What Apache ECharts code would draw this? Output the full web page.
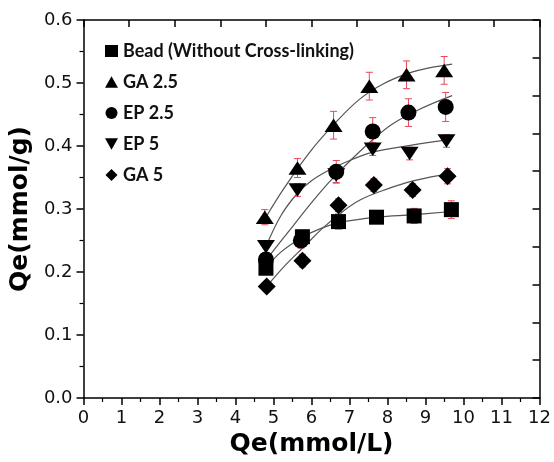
<!DOCTYPE html>
<html>
<head>
<meta charset="utf-8">
<script src="https://cdn.jsdelivr.net/npm/echarts@6/dist/echarts.min.js"></script>
<style>
	html, body { margin: 0; padding: 0; background: #fff; }
	#chart { width: 554px; height: 462px; }
</style>
</head>
<body>
<div id="chart"></div>
<script>
// measured points (x = Ce, y = Qe) and error bars
var beadX = [4.80, 5.76, 6.71, 7.71, 8.70, 9.68];
var beadY = [0.206, 0.256, 0.280, 0.287, 0.289, 0.299];
var beadErr = [0.008, 0.010, 0.012, 0.010, 0.012, 0.014];

var ga25X = [4.77, 5.63, 6.58, 7.52, 8.50, 9.49];
var ga25Y = [0.287, 0.365, 0.433, 0.495, 0.513, 0.520];
var ga25Err = [0.012, 0.015, 0.022, 0.022, 0.022, 0.022];

var ep25X = [4.80, 5.72, 6.65, 7.61, 8.55, 9.53];
var ep25Y = [0.220, 0.250, 0.359, 0.423, 0.453, 0.462];
var ep25Err = [0.010, 0.012, 0.018, 0.022, 0.022, 0.023];

var ep5X = [4.80, 5.63, 6.65, 7.61, 8.58, 9.55];
var ep5Y = [0.240, 0.330, 0.354, 0.395, 0.388, 0.408];
var ep5Err = [0.010, 0.010, 0.012, 0.010, 0.010, 0.010];

var ga5X = [4.82, 5.76, 6.71, 7.64, 8.66, 9.58];
var ga5Y = [0.177, 0.218, 0.306, 0.338, 0.330, 0.352];
var ga5Err = [0.008, 0.010, 0.010, 0.010, 0.010, 0.012];

// fitted curves
var beadFitX = [4.8, 5.2, 5.76, 6.2, 6.71, 7.71, 8.7, 9.7];
var beadFitY = [0.206, 0.232, 0.255, 0.268, 0.278, 0.287, 0.291, 0.296];
var ga25FitX = [4.8, 5.3, 5.95, 6.6, 7.26, 7.87, 8.57, 9.1, 9.7];
var ga25FitY = [0.287, 0.335, 0.390, 0.435, 0.474, 0.498, 0.516, 0.524, 0.530];
var ep25FitX = [4.8, 5.5, 6.0, 6.47, 7.09, 7.61, 8.13, 8.83, 9.7];
var ep25FitY = [0.219, 0.272, 0.310, 0.343, 0.381, 0.410, 0.435, 0.458, 0.480];
var ep5FitX = [4.8, 5.2, 5.63, 6.0, 6.5, 7.0, 7.6, 8.6, 9.7];
var ep5FitY = [0.240, 0.290, 0.325, 0.345, 0.363, 0.377, 0.390, 0.401, 0.411];
var ga5FitX = [4.82, 5.3, 5.8, 6.3, 6.8, 7.3, 8.0, 8.7, 9.7];
var ga5FitY = [0.177, 0.210, 0.240, 0.270, 0.295, 0.315, 0.332, 0.345, 0.357];

var seriesNames = ['Bead (Without Cross-linking)', 'GA 2.5', 'EP 2.5', 'EP 5', 'GA 5'];
var xTicks = [0, 12, 1];
var yTicks = [0, 0.6, 0.1];
var frameTicks = [0, 10, 1];	// top / right frame has its own 10 divisions

var symDown = 'path://M0,0 L10,0 L5,9 Z';
var symUp = 'path://M5,0 L10,9 L0,9 Z';
var symDiamond = 'path://M5,0 L10,5 L5,10 L0,5 Z';

var groups = [
	{name: seriesNames[0], x: beadX, y: beadY, err: beadErr, fx: beadFitX, fy: beadFitY, symbol: 'rect', size: 15},
	{name: seriesNames[1], x: ga25X, y: ga25Y, err: ga25Err, fx: ga25FitX, fy: ga25FitY, symbol: symUp, size: [18, 15]},
	{name: seriesNames[2], x: ep25X, y: ep25Y, err: ep25Err, fx: ep25FitX, fy: ep25FitY, symbol: 'circle', size: 16},
	{name: seriesNames[3], x: ep5X, y: ep5Y, err: ep5Err, fx: ep5FitX, fy: ep5FitY, symbol: symDown, size: [18, 15]},
	{name: seriesNames[4], x: ga5X, y: ga5Y, err: ga5Err, fx: ga5FitX, fy: ga5FitY, symbol: symDiamond, size: 18}
];

function zip(a, b, c){
	var out = [];
	for(var i = 0; i < a.length; i++){
		out.push(c ? [a[i], b[i], c[i]] : [a[i], b[i]]);
	}
	return out;
}

function renderErr(params, api){
	var x = api.value(0), y = api.value(1), e = api.value(2);
	var hi = api.coord([x, y + e]), lo = api.coord([x, y - e]);
	var w = 3.5;
	var st = {stroke: '#e8485a', lineWidth: 1};
	return {
		type: 'group',
		children: [
			{type: 'line', shape: {x1: hi[0], y1: hi[1], x2: lo[0], y2: lo[1]}, style: st},
			{type: 'line', shape: {x1: hi[0] - w, y1: hi[1], x2: hi[0] + w, y2: hi[1]}, style: st},
			{type: 'line', shape: {x1: lo[0] - w, y1: lo[1], x2: lo[0] + w, y2: lo[1]}, style: st}
		]
	};
}

var series = [];
groups.forEach(function(g){
	series.push({
		type: 'line', data: zip(g.fx, g.fy), smooth: 0.4, showSymbol: false, silent: true,
		lineStyle: {color: '#555', width: 1.2}, z: 2
	});
	series.push({
		type: 'custom', data: zip(g.x, g.y, g.err), renderItem: renderErr,
		encode: {x: 0, y: 1}, silent: true, z: 3
	});
	series.push({
		name: g.name, type: 'scatter', data: zip(g.x, g.y),
		symbol: g.symbol, symbolSize: g.size, symbolKeepAspect: true,
		itemStyle: {color: '#000', opacity: 1}, z: 4
	});
});
// hidden series so the frame axes (top / right) are used
series.push({type: 'scatter', xAxisIndex: 1, yAxisIndex: 1, data: [[5, 5]], silent: true, itemStyle: {opacity: 0}});

function axisFont(){ return {fontFamily: 'DejaVu Sans', fontSize: 18, color: '#111'}; }
function lineBlack(){ return {show: true, onZero: false, lineStyle: {color: '#000', width: 1.5}}; }
function tick(inside){ return {show: true, inside: inside, length: 7, lineStyle: {color: '#000', width: 1.5}}; }
function minor(){ return {show: true, splitNumber: 2, length: 4, lineStyle: {color: '#000', width: 1.2}}; }
function titleFont(){ return {fontFamily: 'DejaVu Sans', fontWeight: 'bold', fontSize: 25, color: '#000'}; }

var xLabel = axisFont(); xLabel.margin = 11;
var yLabel = axisFont(); yLabel.margin = 11;
yLabel.formatter = function(v){ return v.toFixed(1); };

var option = {
	animation: false,
	backgroundColor: '#fff',
	grid: {left: 83, right: 13, top: 20, bottom: 64},
	legend: {
		data: seriesNames.map(function(n, i){ return {name: n, icon: groups[i].symbol}; }),
		orient: 'vertical', left: 100, top: 37,
		itemWidth: 13, itemHeight: 12, itemGap: 13,
		textStyle: {fontFamily: 'Lato', fontWeight: 'bold', fontSize: 18, color: '#111'}
	},
	xAxis: [{
		type: 'value', min: xTicks[0], max: xTicks[1], interval: xTicks[2],
		name: 'Qe(mmol/L)', nameLocation: 'middle', nameGap: 30,
		nameTextStyle: titleFont(),
		axisLine: lineBlack(), axisTick: tick(false), minorTick: minor(),
		axisLabel: xLabel, splitLine: {show: false}
	}, {
		type: 'value', position: 'top', min: frameTicks[0], max: frameTicks[1], interval: frameTicks[2],
		axisLine: lineBlack(), axisTick: tick(true),
		axisLabel: {show: false}, splitLine: {show: false}
	}],
	yAxis: [{
		type: 'value', min: yTicks[0], max: yTicks[1], interval: yTicks[2],
		name: 'Qe(mmol/g)', nameLocation: 'middle', nameGap: 48, nameRotate: 90,
		nameTextStyle: titleFont(),
		axisLine: lineBlack(), axisTick: tick(false), minorTick: minor(),
		axisLabel: yLabel, splitLine: {show: false}
	}, {
		type: 'value', position: 'right', min: frameTicks[0], max: frameTicks[1], interval: frameTicks[2],
		axisLine: lineBlack(), axisTick: tick(true),
		axisLabel: {show: false}, splitLine: {show: false}
	}],
	series: series
};

var chart = echarts.init(document.getElementById('chart'));
chart.setOption(option);
</script>
</body>
</html>
